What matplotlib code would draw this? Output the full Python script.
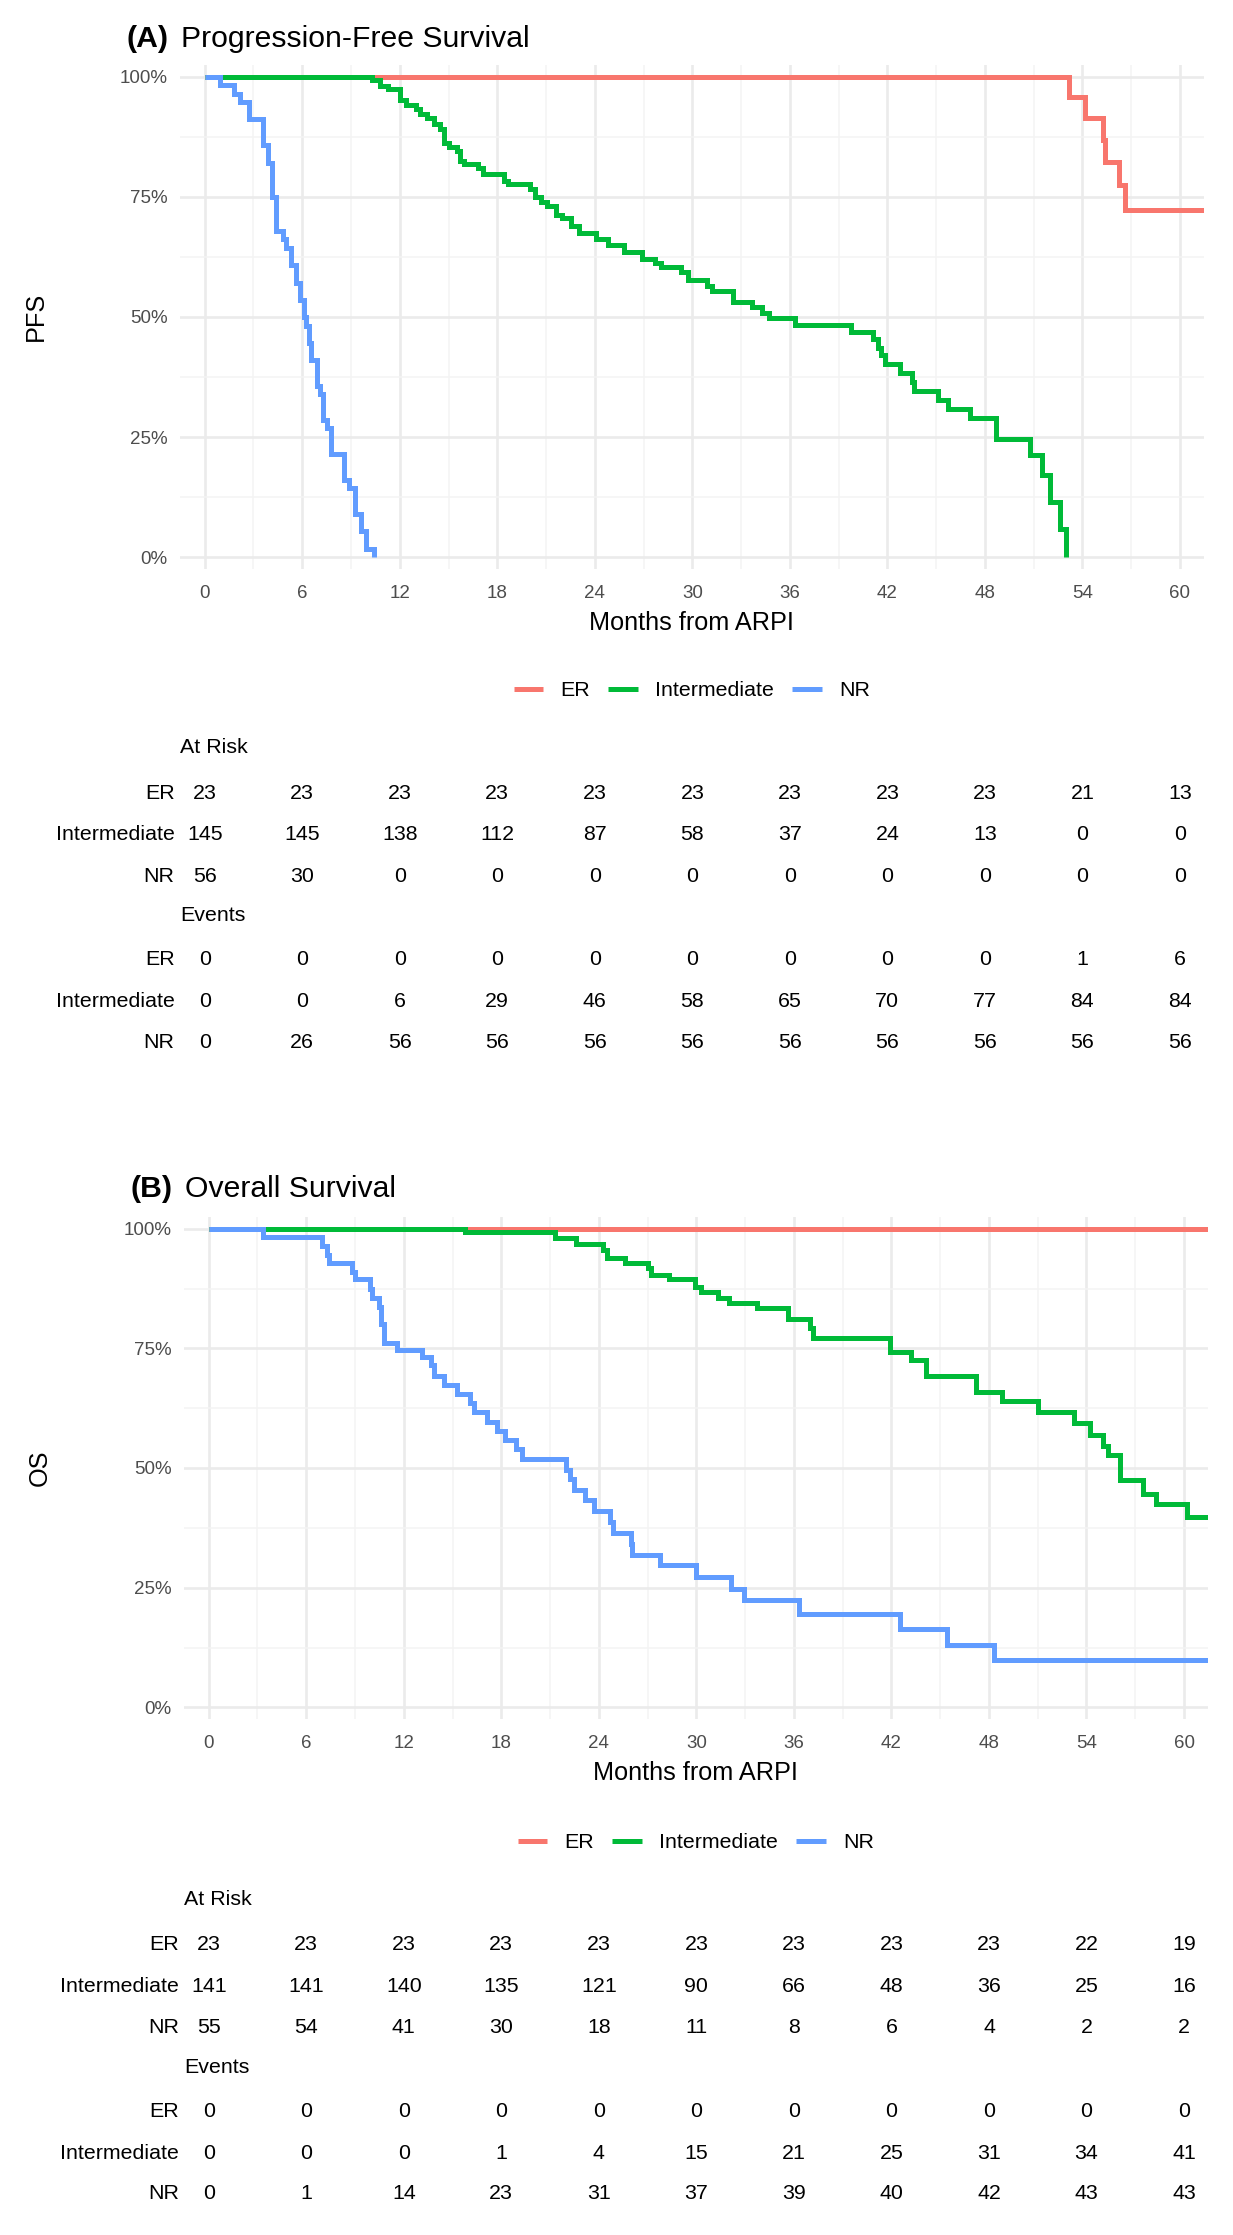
import matplotlib
matplotlib.use('Agg')
import matplotlib.pyplot as plt
from matplotlib.transforms import blended_transform_factory
from matplotlib.lines import Line2D
import numpy as np

plt.rcParams['font.family'] = ['Liberation Sans', 'DejaVu Sans']

# ---------------- data ----------------
groups = ['ER', 'Intermediate', 'NR']
group_colors = ['#F8766D', '#00BA38', '#619CFF']
time_breaks = [0, 6, 12, 18, 24, 30, 36, 42, 48, 54, 60]
minor_breaks = [3, 9, 15, 21, 27, 33, 39, 45, 51, 57]
y_breaks = [0, 0.25, 0.5, 0.75, 1.0]
y_labels = ['0%', '25%', '50%', '75%', '100%']

# PFS curves (months, survival %)
pfs_er_t = [0, 53.2, 54.15, 55.25, 55.4, 56.25, 56.6, 61.5]
pfs_er_s = [100, 95.7, 91.3, 86.8, 82.2, 77.4, 72.3, 72.3]

pfs_int_t = [0, 10.3, 10.8, 11.25, 12.0, 12.4, 13.0, 13.25, 13.7, 14.1, 14.45, 14.7,
             15.0, 15.5, 15.7, 15.95, 16.8, 17.15, 18.4, 18.65, 20.0, 20.3, 20.7,
             21.05, 21.6, 22.0, 22.55, 23.0, 24.1, 24.8, 25.8, 26.9, 27.7, 28.1,
             29.3, 29.75, 30.9, 31.2, 32.5, 33.7, 34.3, 34.7, 36.3, 39.75, 41.1,
             41.4, 41.6, 41.85, 42.75, 43.5, 43.65, 45.1, 45.7, 47.1, 48.7, 50.8,
             51.5, 52.0, 52.6, 53.0]
pfs_int_s = [100, 99.3, 98.0, 97.3, 95.1, 94.0, 93.2, 92.1, 91.4, 90.2, 89.1, 86.1,
             85.4, 84.6, 82.4, 81.7, 80.9, 79.8, 78.3, 77.6, 76.5, 75.0, 73.8,
             73.1, 71.2, 70.5, 69.0, 67.5, 66.3, 65.0, 63.5, 62.0, 61.3, 60.3,
             59.4, 57.6, 56.5, 55.3, 53.1, 52.0, 50.9, 49.8, 48.3, 46.8, 45.3,
             43.5, 42.0, 40.1, 38.3, 36.4, 34.5, 32.7, 30.8, 29.0, 24.5, 21.2,
             17.1, 11.5, 5.9, 0]

pfs_nr_t = [0, 0.95, 1.8, 2.2, 2.7, 3.6, 3.9, 4.15, 4.4, 4.8, 5.0, 5.3, 5.6, 5.85,
            6.1, 6.25, 6.4, 6.55, 6.9, 7.1, 7.25, 7.5, 7.8, 8.6, 8.85, 9.25, 9.6,
            9.95, 10.4]
pfs_nr_s = [100, 98.2, 96.4, 94.6, 91.1, 85.7, 82.1, 75.0, 67.9, 66.1, 64.3, 60.7,
            57.1, 53.6, 50.0, 48.2, 44.6, 41.1, 35.7, 33.9, 28.6, 26.8, 21.4, 16.1,
            14.3, 8.9, 5.4, 1.8, 0]

# OS curves (months, survival %)
os_er_t = [0, 61.5]
os_er_s = [100, 100]

os_int_t = [0, 15.75, 21.3, 22.6, 24.25, 24.5, 25.6, 27.0, 27.2, 28.3, 29.9, 30.3,
            31.3, 32.0, 33.7, 35.65, 37.0, 37.2, 41.9, 43.2, 44.1, 47.2, 48.8,
            51.0, 53.25, 54.2, 55.0, 55.3, 56.05, 57.5, 58.3, 60.2, 61.5]
os_int_s = [100, 99.2, 98.0, 96.9, 95.5, 93.8, 92.9, 91.7, 90.4, 89.4, 87.8, 86.7,
            85.6, 84.5, 83.4, 81.1, 79.3, 77.2, 74.3, 72.6, 69.3, 65.8, 63.9,
            61.8, 59.4, 56.9, 54.6, 52.7, 47.5, 44.6, 42.4, 39.8, 39.8]

os_nr_t = [0, 3.37, 7.0, 7.25, 7.4, 8.8, 9.0, 9.9, 10.05, 10.5, 10.6, 10.8, 11.6,
           13.15, 13.7, 13.85, 14.5, 15.25, 16.1, 16.3, 17.15, 17.75, 18.2, 18.9,
           19.3, 22.0, 22.2, 22.45, 23.15, 23.7, 24.7, 24.85, 26.0, 26.05, 27.75,
           30.0, 32.1, 32.95, 36.3, 42.5, 45.4, 48.3, 61.5]
os_nr_s = [100, 98.2, 96.3, 94.4, 92.8, 90.9, 89.4, 87.4, 85.5, 83.6, 80.1, 76.2,
           74.7, 73.1, 71.6, 69.3, 67.4, 65.4, 63.5, 61.6, 59.6, 57.7, 55.8, 53.9,
           51.9, 49.6, 47.7, 45.4, 43.4, 41.1, 38.8, 36.5, 34.2, 31.9, 29.7, 27.2,
           24.7, 22.4, 19.5, 16.4, 13.0, 9.9, 9.9]

# Risk tables
pfs_risk_er = [23, 23, 23, 23, 23, 23, 23, 23, 23, 21, 13]
pfs_risk_int = [145, 145, 138, 112, 87, 58, 37, 24, 13, 0, 0]
pfs_risk_nr = [56, 30, 0, 0, 0, 0, 0, 0, 0, 0, 0]
pfs_ev_er = [0, 0, 0, 0, 0, 0, 0, 0, 0, 1, 6]
pfs_ev_int = [0, 0, 6, 29, 46, 58, 65, 70, 77, 84, 84]
pfs_ev_nr = [0, 26, 56, 56, 56, 56, 56, 56, 56, 56, 56]

os_risk_er = [23, 23, 23, 23, 23, 23, 23, 23, 23, 22, 19]
os_risk_int = [141, 141, 140, 135, 121, 90, 66, 48, 36, 25, 16]
os_risk_nr = [55, 54, 41, 30, 18, 11, 8, 6, 4, 2, 2]
os_ev_er = [0, 0, 0, 0, 0, 0, 0, 0, 0, 0, 0]
os_ev_int = [0, 0, 0, 1, 4, 15, 21, 25, 31, 34, 41]
os_ev_nr = [0, 1, 14, 23, 31, 37, 39, 40, 42, 43, 43]

# ---------------- layout (pixels) ----------------
W, H, DPI = 1233, 2235, 100
fig = plt.figure(figsize=(W / DPI, H / DPI), dpi=DPI)
fig.patch.set_facecolor('white')

XMIN, XMAX = -1.52, 61.45
LW = 3.6
FS_TITLE = 21.7
FS_AXTITLE = 18.2
FS_TICK = 13.5
FS_TABLE = 15.4
TICK_COL = '#4D4D4D'


def fy(y_px):
    return 1 - y_px / H


def fx(x_px):
    return x_px / W


def make_panel(left, top, right, bottom, curves, ylabel, title_tag, title, title_y,
               tag_x, ylab_x, xlab_y, legend_y, table_rows, label_right, header_x,
               risk, events):
    ax = fig.add_axes([fx(left), fy(bottom), (right - left) / W, (bottom - top) / H])
    for (t, s), c in zip(curves, group_colors):
        ax.step(t, np.array(s) / 100.0, where='post', color=c, lw=LW,
                solid_joinstyle='miter', solid_capstyle='butt')
    ax.set_xlim(XMIN, XMAX)
    ax.set_ylim(-0.025, 1.025)
    ax.set_xticks(time_breaks)
    ax.set_xticks(minor_breaks, minor=True)
    ax.set_yticks(y_breaks)
    ax.set_yticklabels(y_labels)
    ax.set_yticks([0.125, 0.375, 0.625, 0.875], minor=True)
    ax.grid(which='major', color='#EBEBEB', lw=1.9)
    ax.grid(which='minor', color='#F4F4F4', lw=1.1)
    ax.set_axisbelow(True)
    for sp in ax.spines.values():
        sp.set_visible(False)
    ax.tick_params(which='both', length=0)
    ax.tick_params(axis='x', pad=11.4, labelsize=FS_TICK, labelcolor=TICK_COL)
    ax.tick_params(axis='y', pad=9.0, labelsize=FS_TICK, labelcolor=TICK_COL)

    # titles
    fig.text(fx(tag_x), fy(title_y), title_tag, fontsize=FS_TITLE, fontweight='bold',
             ha='left', va='baseline')
    fig.text(fx(tag_x + 53.7), fy(title_y), title, fontsize=FS_TITLE,
             ha='left', va='baseline')
    fig.text(fx(ylab_x), fy((top + bottom) / 2), ylabel, fontsize=FS_AXTITLE,
             rotation=90, ha='center', va='center')
    tr_ax = blended_transform_factory(ax.transAxes, fig.transFigure)
    ax.text(0.5, fy(xlab_y), 'Months from ARPI', transform=tr_ax, fontsize=FS_AXTITLE,
            ha='center', va='center', clip_on=False)

    # legend
    handles = [Line2D([0], [0], color=c, lw=LW, solid_capstyle='butt') for c in group_colors]
    fig.legend(handles, groups, loc='center',
               bbox_to_anchor=(fx((left + right) / 2), fy(legend_y)),
               ncol=3, frameon=False, fontsize=FS_TABLE, handlelength=1.38,
               handletextpad=0.82, columnspacing=0.84)

    # risk / event table
    tr = blended_transform_factory(ax.transData, fig.transFigure)
    cap = 0.716 * FS_TABLE * DPI / 72 / 2
    fig.text(fx(header_x), fy(table_rows[0] + cap), 'At Risk', fontsize=FS_TABLE,
             ha='left', va='baseline')
    for g, vals, yy in zip(groups, risk, table_rows[1:4]):
        fig.text(fx(label_right), fy(yy + cap), g, fontsize=FS_TABLE, ha='right', va='baseline')
        for t, v in zip(time_breaks, vals):
            ax.text(t, fy(yy + cap), str(v), transform=tr, fontsize=FS_TABLE,
                    ha='center', va='baseline', clip_on=False)
    fig.text(fx(header_x), fy(table_rows[4] + cap), 'Events', fontsize=FS_TABLE,
             ha='left', va='baseline')
    for g, vals, yy in zip(groups, events, table_rows[5:8]):
        fig.text(fx(label_right), fy(yy + cap), g, fontsize=FS_TABLE, ha='right', va='baseline')
        for t, v in zip(time_breaks, vals):
            ax.text(t, fy(yy + cap), str(v), transform=tr, fontsize=FS_TABLE,
                    ha='center', va='baseline', clip_on=False)
    return ax


make_panel(180, 64.5, 1203.5, 569.2,
           [(pfs_er_t, pfs_er_s), (pfs_int_t, pfs_int_s), (pfs_nr_t, pfs_nr_s)],
           'PFS', '(A)', 'Progression-Free Survival', 47, 127, 36, 623, 691,
           [745, 791, 832, 874, 913, 957, 999, 1040], 174.5, 180,
           [pfs_risk_er, pfs_risk_int, pfs_risk_nr], [pfs_ev_er, pfs_ev_int, pfs_ev_nr])

make_panel(184, 1216.7, 1207.6, 1719.3,
           [(os_er_t, os_er_s), (os_int_t, os_int_s), (os_nr_t, os_nr_s)],
           'OS', '(B)', 'Overall Survival', 1197, 131, 40, 1773, 1843,
           [1897, 1942, 1984, 2025, 2065, 2109, 2151, 2191], 178.7, 184,
           [os_risk_er, os_risk_int, os_risk_nr], [os_ev_er, os_ev_int, os_ev_nr])

fig.savefig('out.png', dpi=DPI, facecolor='white')
